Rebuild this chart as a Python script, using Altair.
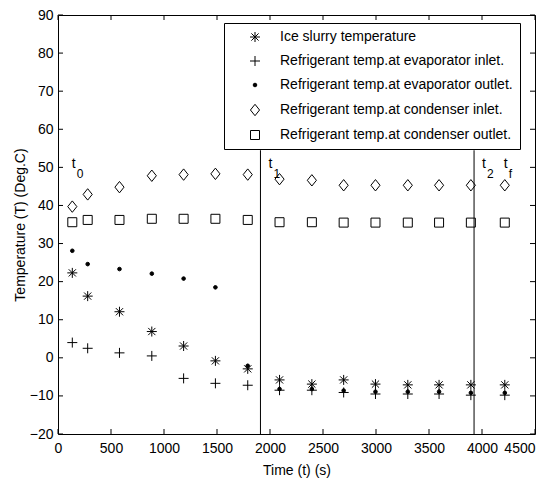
import altair as alt
import pandas as pd

# ---- data ----
time_s = [135, 280, 580, 885, 1185, 1485, 1790, 2090, 2395, 2695, 2995, 3300, 3595, 3895, 4215]
ice_slurry = [22.3, 16.2, 12.1, 6.9, 3.1, -0.8, -2.9, -5.8, -6.9, -5.8, -6.9, -7.1, -7.1, -7.1, -7.1]
evap_inlet = [4.0, 2.5, 1.3, 0.5, -5.4, -6.7, -7.2, -8.5, -8.5, -9.1, -9.5, -9.5, -9.5, -9.8, -9.8]
evap_outlet = [28.1, 24.6, 23.3, 22.1, 20.8, 18.5, -2.1, -8.2, -8.2, -8.6, -8.9, -8.9, -8.9, -9.2, -9.2]
cond_inlet = [39.7, 42.9, 44.8, 47.8, 48.1, 48.3, 48.1, 46.9, 46.6, 45.3, 45.3, 45.3, 45.3, 45.3, 45.3]
cond_outlet = [35.6, 36.2, 36.2, 36.5, 36.5, 36.5, 36.2, 35.6, 35.6, 35.5, 35.5, 35.5, 35.5, 35.5, 35.5]

series_names = [
    "Ice slurry temperature",
    "Refrigerant temp.at evaporator inlet.",
    "Refrigerant temp.at evaporator outlet.",
    "Refrigerant temp.at condenser inlet.",
    "Refrigerant temp.at condenser outlet.",
]
series_values = [ice_slurry, evap_inlet, evap_outlet, cond_inlet, cond_outlet]

phase_lines_x = [1910, 3925]
phase_line_top = 54.5
phase_line_bottom = -20

t_label_x = [149, 2004, 4018, 4223]
t_label_sub = ["0", "1", "2", "f"]
t_main_y = 49.8
t_sub_y = 47.2

x_ticks = list(range(0, 4501, 500))
y_ticks = list(range(-20, 91, 10))

# ---- tables ----
rows = []
for name, vals in zip(series_names, series_values):
    for t, v in zip(time_s, vals):
        rows.append({"series": name, "time": t, "temp": v})
df = pd.DataFrame(rows)

vlines = pd.DataFrame({"x": phase_lines_x, "top": [phase_line_top] * 2, "bot": [phase_line_bottom] * 2})
tlab = pd.DataFrame({"x": t_label_x, "sub": t_label_sub, "main": ["t"] * 4,
                     "ym": [t_main_y] * 4, "ys": [t_sub_y] * 4})
xt = pd.DataFrame({"v": x_ticks})
yt = pd.DataFrame({"v": y_ticks})

W, H = 477, 419
TICK = 5
FONT = "Liberation Sans"

xscale = alt.Scale(domain=[0, 4500], nice=False, zero=False)
yscale = alt.Scale(domain=[-20, 90], nice=False, zero=False)

star = "M-1,0H1M0,-1V1M-0.72,-0.72L0.72,0.72M-0.72,0.72L0.72,-0.72"
plus = "M-1,0H1M0,-1V1"
diamond = "M0,-1L0.8,0L0,1L-0.8,0Z"
square = "M-1,-1H1V1H-1Z"

legend = alt.Legend(
    title=None, orient="none", legendX=166, legendY=8,
    labelFont=FONT, labelFontSize=14, labelColor="black", labelLimit=0,
    strokeColor="black", fillColor="white", padding=7,
    rowPadding=10, symbolOffset=17, labelOffset=18,
    symbolStrokeColor="black", symbolStrokeWidth=1,
)

ord_scale = lambda rng: alt.Scale(type="ordinal", domain=series_names, range=rng)

points = alt.Chart(df).mark_point(filled=False, strokeWidth=1, opacity=1).encode(
    x=alt.X("time:Q", scale=xscale,
            axis=alt.Axis(orient="bottom", title="Time (t) (s)", values=x_ticks, ticks=False, format="d",
                          domain=False, labelPadding=7, titlePadding=8, grid=False,
                          labelOverlap=False, labelFlush=False,
                          labelAlign={"expr": "datum.value >= 4500 ? 'right' : 'center'"})),
    y=alt.Y("temp:Q", scale=yscale,
            axis=alt.Axis(orient="left", title="Temperature (T) (Deg.C)", values=y_ticks, ticks=False,
                          format="d", domain=False, labelPadding=5, titlePadding=2, grid=False,
                          labelOverlap=False, labelFlush=False)),
    shape=alt.Shape("series:N", scale=ord_scale([star, plus, "circle", diamond, square]), legend=legend),
    fill=alt.Fill("series:N", scale=ord_scale(["transparent", "transparent", "black", "transparent", "transparent"]),
                  legend=legend),
    stroke=alt.Stroke("series:N", scale=ord_scale(["black"] * 5), legend=legend),
    size=alt.Size("series:N", scale=ord_scale([100, 100, 13, 130, 81]), legend=legend),
)

rules = alt.Chart(vlines).mark_rule(color="black", strokeWidth=1).encode(
    x=alt.X("x:Q", scale=xscale, axis=None),
    y=alt.Y("top:Q", scale=yscale, axis=None),
    y2="bot:Q",
)

tmain = alt.Chart(tlab).mark_text(font=FONT, fontSize=14, align="center", baseline="alphabetic", color="black").encode(
    x=alt.X("x:Q", scale=xscale, axis=None), y=alt.Y("ym:Q", scale=yscale, axis=None), text="main:N")
tsub = alt.Chart(tlab).mark_text(font=FONT, fontSize=12, align="left", baseline="alphabetic", dx=3, color="black").encode(
    x=alt.X("x:Q", scale=xscale, axis=None), y=alt.Y("ys:Q", scale=yscale, axis=None), text="sub:N")

# inward ticks on all four sides
xtick_marks = [
    alt.Chart(xt).mark_rule(color="black", strokeWidth=1).encode(
        x=alt.X("v:Q", scale=xscale, axis=None), y=alt.value(a), y2=alt.value(b))
    for a, b in ((0, TICK), (H, H - TICK))
]
ytick_marks = [
    alt.Chart(yt).mark_rule(color="black", strokeWidth=1).encode(
        y=alt.Y("v:Q", scale=yscale, axis=None), x=alt.value(a), x2=alt.value(b))
    for a, b in ((0, TICK), (W, W - TICK))
]

chart = alt.layer(points, rules, tmain, tsub, *xtick_marks, *ytick_marks).resolve_axis(
    x="independent", y="independent"
).properties(
    width=W, height=H,
    autosize=alt.AutoSizeParams(type="none"),
    padding={"left": 50, "top": 7, "right": 8, "bottom": 45},
    background="white",
).configure_view(
    stroke="black", strokeWidth=1
).configure_axis(
    labelFont=FONT, labelFontSize=14, labelColor="black", labelOverlap=False,
    titleFont=FONT, titleFontSize=14, titleFontWeight="normal", titleColor="black",
)

chart.save("out.html", embed_options={"renderer": "svg", "actions": False})
